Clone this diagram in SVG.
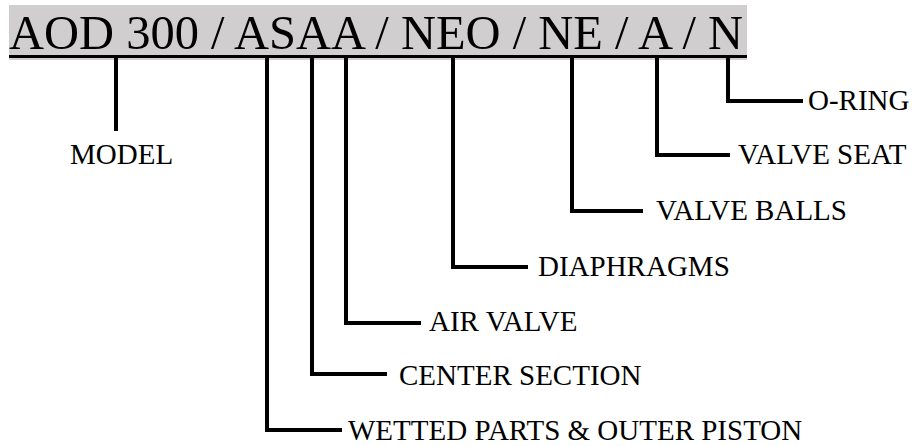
<svg xmlns="http://www.w3.org/2000/svg" width="918" height="446" viewBox="0 0 918 446">
<style>
.t{font-family:"Liberation Serif","Times New Roman",serif;fill:#000}
.lbl{font-size:29px}
.c{fill:none;stroke:#000;stroke-width:4;stroke-linejoin:miter;stroke-linecap:butt}
</style>
<rect x="0" y="0" width="918" height="446" fill="#fff"/>
<g id="title">
<rect x="9" y="5" width="738" height="55" fill="#d0cece"/>
<line x1="9" y1="56.5" x2="747" y2="56.5" stroke="#000" stroke-width="3"/>
<text class="t" x="9" y="49" font-size="49" textLength="734" lengthAdjust="spacingAndGlyphs">AOD 300 / ASAA / NEO / NE / A / N</text>
</g>
<g id="connectors">
<polyline class="c" points="116,58 116,131"/>
<polyline class="c" points="728,58 728,101 803,101"/>
<polyline class="c" points="657,58 657,155 730,155"/>
<polyline class="c" points="572,58 572,211 643,211"/>
<polyline class="c" points="453,58 453,267 528,267"/>
<polyline class="c" points="346,58 346,323 421,323"/>
<polyline class="c" points="312,58 312,374 387,374"/>
<polyline class="c" points="267,58 267,430 342,430"/>
</g>
<g id="model"><text class="t lbl" x="70" y="164">MODEL</text></g>
<g id="oring"><text class="t lbl" x="808" y="110">O-RING</text></g>
<g id="valveseat"><text class="t lbl" x="738" y="164">VALVE SEAT</text></g>
<g id="valveballs"><text class="t lbl" x="656" y="220">VALVE BALLS</text></g>
<g id="diaphragms"><text class="t lbl" x="538" y="276">DIAPHRAGMS</text></g>
<g id="airvalve"><text class="t lbl" x="429" y="331">AIR VALVE</text></g>
<g id="centersection"><text class="t lbl" x="399" y="385">CENTER SECTION</text></g>
<g id="wetted"><text class="t lbl" x="348" y="440">WETTED PARTS &amp; OUTER PISTON</text></g>
</svg>
